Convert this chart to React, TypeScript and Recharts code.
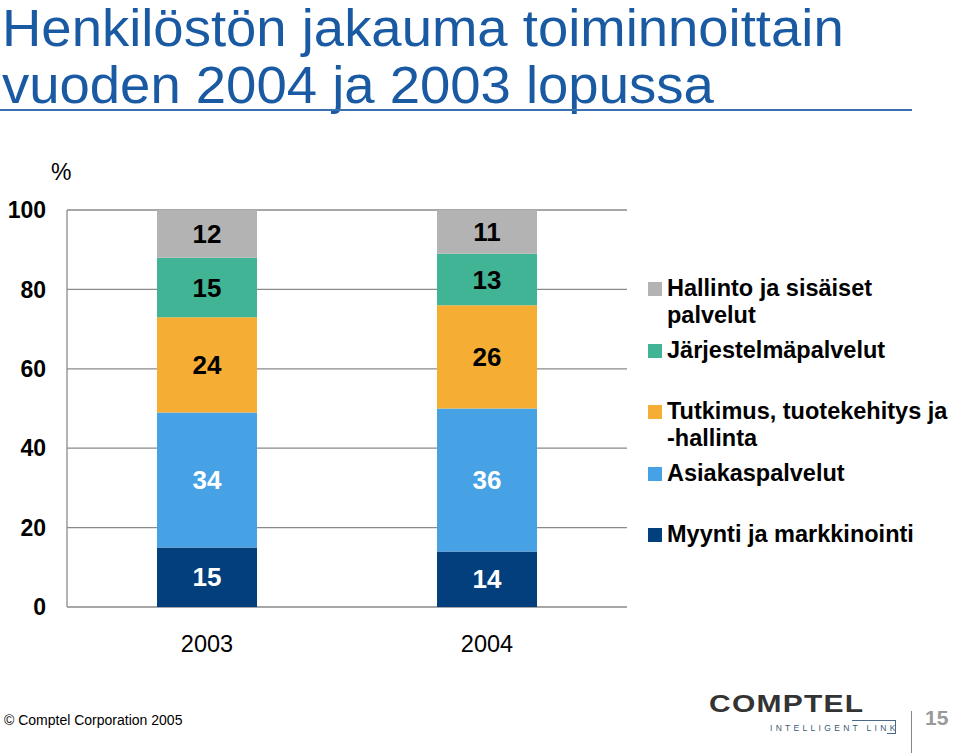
import React from 'react';
import { BarChart, Bar, XAxis, YAxis, CartesianGrid, Legend, LabelList } from 'recharts';

const years = ['2003', '2004'];
const myynti = [15, 14];
const asiakas = [34, 36];
const tutkimus = [24, 26];
const jarjestelma = [15, 13];
const hallinto = [12, 11];
const yTicks = [0, 20, 40, 60, 80, 100];

const seriesDefs = [
  { key: 'myynti', name: 'Myynti ja markkinointi', values: myynti, color: '#023f7c', label: '#ffffff' },
  { key: 'asiakas', name: 'Asiakaspalvelut', values: asiakas, color: '#47a1e5', label: '#ffffff' },
  { key: 'tutkimus', name: 'Tutkimus, tuotekehitys ja -hallinta', values: tutkimus, color: '#f5ae33', label: '#000000' },
  { key: 'jarjestelma', name: 'Järjestelmäpalvelut', values: jarjestelma, color: '#41b496', label: '#000000' },
  { key: 'hallinto', name: 'Hallinto ja sisäiset palvelut', values: hallinto, color: '#b3b3b3', label: '#000000' },
];

const data = years.map((y, i) => {
  const row: Record<string, string | number> = { year: y };
  seriesDefs.forEach((s) => { row[s.key] = s.values[i]; });
  return row;
});

const FONT = 'Arial, "Liberation Sans", Helvetica, sans-serif';

const renderLegend = () => {
  const items = [...seriesDefs].reverse();
  return (
    <div style={{ fontFamily: FONT, fontWeight: 700, fontSize: 23.5, color: '#000' }}>
      {items.map((s) => (
        <div key={s.key} style={{ display: 'flex', alignItems: 'flex-start', height: 61.5 }}>
          <div style={{ width: 14, height: 14, background: s.color, marginTop: 3, marginRight: 5, flex: 'none' }} />
          <div style={{ width: 296, lineHeight: '27px', marginTop: -4 }}>
            {s.name.split(' ').map((w, i) => (
              <React.Fragment key={i}>
                {i > 0 ? ' ' : ''}
                <span style={{ whiteSpace: 'nowrap' }}>{w}</span>
              </React.Fragment>
            ))}
          </div>
        </div>
      ))}
    </div>
  );
};

export default function App() {
  return (
    <div style={{ position: 'absolute', left: 0, top: 0, width: 960, height: 753, background: '#fff', overflow: 'hidden', fontFamily: FONT }}>
      <div style={{ position: 'absolute', left: 2, top: 0, fontSize: 51, lineHeight: '57px', color: '#1a5aa3', whiteSpace: 'nowrap', transform: 'scaleX(1.068)', transformOrigin: 'left top' }}>
        Henkilöstön jakauma toiminnoittain<br />vuoden 2004 ja 2003 lopussa
      </div>
      <div style={{ position: 'absolute', left: 0, top: 109, width: 912, height: 2, background: '#3a6fb0' }} />
      <div style={{ position: 'absolute', left: 51, top: 159, fontSize: 23, color: '#000' }}>%</div>

      <div style={{ position: 'absolute', left: 0, top: 0 }}>
        <BarChart
          width={960}
          height={753}
          data={data}
          margin={{ top: 210, right: 333, bottom: 86, left: 7 }}
          barCategoryGap={90}
        >
          <CartesianGrid horizontal vertical={false} stroke="#8a8a8a" strokeWidth={1.3} />
          <XAxis
            dataKey="year"
            axisLine={false}
            tickLine={false}
            tickSize={0}
            tickMargin={28}
            height={60}
            tick={{ fontSize: 23.5, fill: '#000', fontFamily: FONT }}
          />
          <YAxis
            domain={[0, 100]}
            ticks={yTicks}
            width={60}
            tickLine={false}
            tickSize={0}
            tickMargin={21}
            axisLine={{ stroke: '#8a8a8a', strokeWidth: 1.3 }}
            tick={{ fontSize: 23, fill: '#000', fontWeight: 700, fontFamily: FONT }}
          />
          <Legend
            layout="vertical"
            align="center"
            verticalAlign="middle"
            content={renderLegend}
            wrapperStyle={{ left: 648, top: 279, width: 312, right: 'auto', bottom: 'auto' }}
          />
          {seriesDefs.map((s) => (
            <Bar key={s.key} dataKey={s.key} name={s.name} stackId="a" fill={s.color} isAnimationActive={false}>
              <LabelList
                dataKey={s.key}
                position="center"
                fill={s.label}
                style={{ fontSize: 26, fontWeight: 700, fontFamily: FONT }}
              />
            </Bar>
          ))}
        </BarChart>
      </div>

      <div style={{ position: 'absolute', left: 4, top: 712, fontSize: 14, color: '#000' }}>© Comptel Corporation 2005</div>
      <div style={{ position: 'absolute', left: 709, top: 690, fontSize: 24, fontWeight: 700, letterSpacing: 1, color: '#333', transform: 'scaleX(1.25)', transformOrigin: 'left' }}>COMPTEL</div>
      <div style={{ position: 'absolute', left: 770, top: 723, fontSize: 8.5, letterSpacing: 3.3, color: '#3d5a78' }}>INTELLIGENT LINK</div>
      <div style={{ position: 'absolute', left: 852, top: 720, width: 44, height: 14, borderTop: '1px solid #4a6a8a', borderRight: '1px solid #4a6a8a', boxSizing: 'border-box' }} />
      <div style={{ position: 'absolute', left: 887, top: 733, width: 9, height: 1, background: '#4a6a8a' }} />
      <div style={{ position: 'absolute', left: 911, top: 711, width: 1, height: 42, background: '#888' }} />
      <div style={{ position: 'absolute', left: 925, top: 706, fontSize: 21, fontWeight: 700, color: '#9a9a9a' }}>15</div>
    </div>
  );
}
